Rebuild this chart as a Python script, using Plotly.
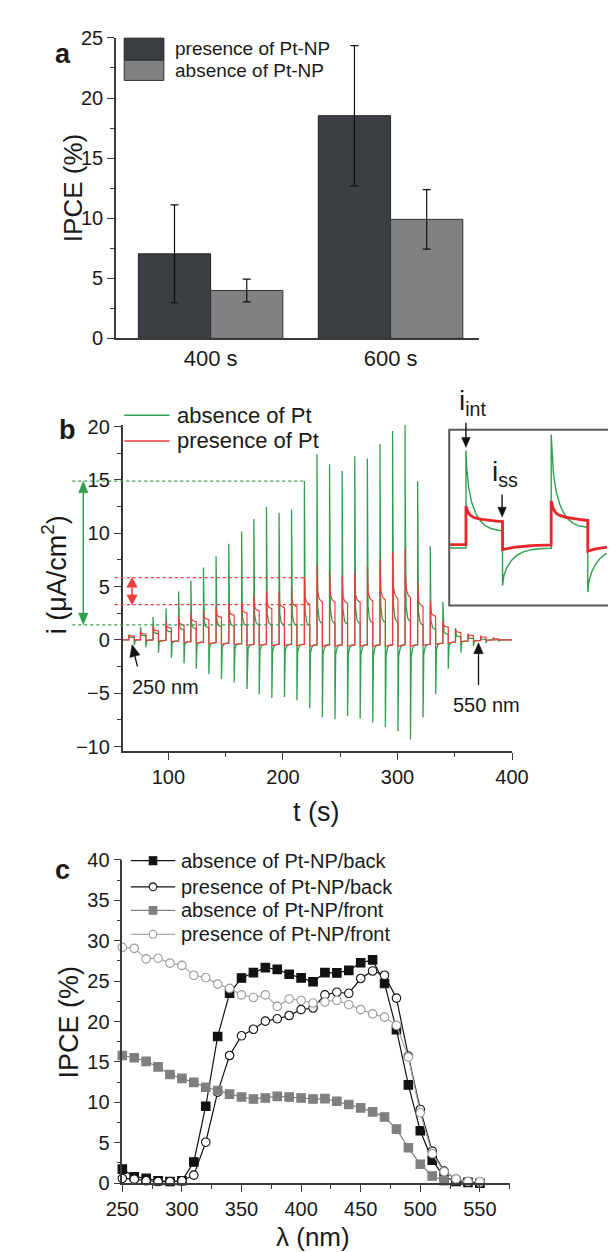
import math
import numpy as np
import plotly.graph_objects as go

W, H = 616, 1252


def px(x):
    return x / W


def py(y):
    return 1 - y / H


FONT = "Liberation Sans, Arial, sans-serif"
AX = "#3a3a3a"
GREEN = "#2f9e4f"
RED = "#ee3b3b"

# ---------------- panel a data ----------------
a_categories = ["400 s", "600 s"]
a_presence = [7.03, 18.53]
a_presence_err = [4.07, 5.84]
a_absence = [3.98, 9.90]
a_absence_err = [0.95, 2.47]

# ---------------- panel b data (per light pulse) ----------------
b_pulse_on = [65.5, 75.6, 86.6, 97.9, 108.9, 119.6, 130.6, 141.6, 152.7, 163.9,
              174.6, 185.6, 196.6, 207.5, 218.7, 229.7, 240.7, 251.7, 262.7, 273.7,
              284.7, 295.7, 306.6, 317.6, 328.6, 339.6, 350.6, 361.6, 372.6, 383.6]
b_green_peak = [0.5, 1.2, 2.15, 2.95, 4.55, 5.56, 6.8, 7.85, 9.03, 10.17,
                11.35, 12.47, 11.92, 12.23, 14.9, 17.42, 16.47, 15.85, 17.22, 17.02,
                18.38, 19.6, 20.15, 14.87, 8.78, 3.55, 1.1, 0.5, 0.3, 0.2]
b_green_ss = [0.25, 0.4, 0.6, 0.75, 0.95, 1.05, 1.15, 1.25, 1.3, 1.35,
              1.4, 1.4, 1.4, 1.4, 1.4, 1.55, 1.55, 1.5, 1.55, 1.6,
              1.65, 1.7, 1.75, 1.4, 1.0, 0.55, 0.3, 0.15, 0.05, 0.0]
b_green_neg = [-0.5, -0.68, -1.2, -1.66, -2.2, -2.7, -3.2, -3.66, -4.0, -4.6,
               -5.1, -5.44, -5.35, -5.65, -6.42, -7.25, -7.43, -7.13, -7.37, -7.74,
               -8.17, -8.57, -9.34, -7.28, -5.1, -2.7, -1.2, -0.6, -0.3, -0.15]
b_red_peak = [0.45, 0.8, 1.26, 1.66, 2.18, 2.55, 2.8, 3.1, 3.4, 3.6,
              4.17, 4.64, 4.5, 4.8, 5.85, 7.0, 6.6, 6.0, 6.3, 6.85,
              7.55, 8.2, 8.5, 5.4, 3.6, 1.75, 1.0, 0.6, 0.4, 0.2]
b_red_ss = [0.35, 0.55, 0.85, 1.1, 1.4, 1.7, 1.9, 2.1, 2.3, 2.5,
            2.7, 2.9, 3.0, 3.1, 3.3, 3.5, 3.5, 3.4, 3.5, 3.6,
            3.7, 3.8, 3.9, 3.1, 2.2, 1.2, 0.7, 0.4, 0.25, 0.1]
b_off_level = [0.0, 0.0, -0.05, -0.1, -0.15, -0.2, -0.25, -0.3, -0.35, -0.4,
               -0.4, -0.4, -0.4, -0.4, -0.45, -0.45, -0.45, -0.45, -0.45, -0.45,
               -0.45, -0.45, -0.45, -0.4, -0.3, -0.2, -0.1, -0.05, 0.0, 0.0]
b_red_drop = [0.0, -0.05, -0.1, -0.15, -0.25, -0.3, -0.35, -0.4, -0.45, -0.5,
              -0.5, -0.55, -0.55, -0.55, -0.6, -0.6, -0.6, -0.6, -0.6, -0.6,
              -0.6, -0.6, -0.6, -0.5, -0.4, -0.3, -0.15, -0.1, -0.05, 0.0]
b_on_duration = 4.7
b_t_range = [60, 400]
b_y_range = [-10.41, 20.18]

# marked levels (arrows) in panel b
b_green_int, b_green_ssmark = 14.9, 1.41
b_red_int, b_red_ssmark = 5.85, 3.3
b_mark_t_on, b_mark_t_off = 218.7, 223.6

# inset (magnified two pulses)
ins_on = [2.15, 13.1]
ins_on_duration = 4.7
ins_green_peak = [6.19, 7.19]
ins_green_ss = [1.13, 1.33]
ins_green_neg = [-2.25, -2.66]
ins_green_base = [0.1, 0.1]
ins_red_peak = [2.72, 3.03]
ins_red_ss = [1.68, 1.74]
ins_red_drop = [0.0, -0.1]
ins_red_base = [0.31, 0.31]
ins_t_range = [0, 20.27]

# ---------------- panel c data ----------------
c_wl = [250, 260, 270, 280, 290, 300, 310, 320, 330, 340, 350, 360, 370, 380, 390, 400,
        410, 420, 430, 440, 450, 460, 470, 480, 490, 500, 510, 520, 530, 540, 550]
c_abs_back = [1.74, 0.8, 0.6, 0.3, 0.2, 0.3, 2.63, 9.52, 18.16, 23.5, 25.4, 26.06, 26.67, 26.46,
              25.86, 25.41, 24.92, 26.06, 26.02, 26.34, 27.27, 27.64, 24.72, 19.0, 12.16, 6.48,
              2.84, 0.8, 0.2, 0.1, 0.0]
c_pres_back = [0.6, 0.5, 0.3, 0.2, 0.2, 0.3, 1.0, 5.07, 11.27, 15.8, 18.24, 19.05, 20.06, 20.34,
               20.75, 21.48, 21.68, 23.3, 23.63, 23.5, 25.33, 26.26, 25.73, 22.9, 15.72, 9.12,
               3.97, 1.5, 0.49, 0.2, 0.0]
c_wl_abs_front = [250, 260, 270, 280, 290, 300, 310, 320, 330, 340, 350, 360, 370, 380, 390, 400,
                  410, 420, 430, 440, 450, 460, 470, 480, 490, 500, 510, 520]
c_abs_front = [15.8, 15.52, 15.08, 14.39, 13.45, 12.97, 12.48, 11.87, 11.47, 11.02, 10.66, 10.42,
               10.54, 10.74, 10.66, 10.54, 10.42, 10.46, 10.13, 9.73, 9.32, 8.83, 8.19, 6.69, 4.38,
               2.35, 0.89, 0.32]
c_pres_front = [29.18, 29.06, 27.76, 27.84, 27.23, 26.95, 25.73, 25.45, 24.64, 24.11, 23.3, 22.98,
                23.3, 21.88, 22.8, 22.61, 22.29, 22.41, 22.61, 22.09, 21.48, 20.95, 20.55, 19.53,
                15.6, 8.71, 3.65, 1.42, 0.53, 0.2, 0.2]


def pulse_series(t_on, peak, ss, neg, base, start_level, t_end, d_on,
                 on_fast, on_tf, on_ts, off_fast, off_tf, off_ts):
    ts = []
    ys = []
    prev = start_level
    for k, t0 in enumerate(t_on):
        ts.append(t0)
        ys.append(prev)
        tau = d_on * np.linspace(0, 1, 140) ** 2
        v = ss[k] + (peak[k] - ss[k]) * (on_fast * np.exp(-tau / on_tf)
                                          + (1 - on_fast) * np.exp(-tau / on_ts))
        ts.extend(t0 + tau)
        ys.extend(v)
        t1 = t0 + d_on
        t_next = t_on[k + 1] if k + 1 < len(t_on) else t_end
        tau2 = (t_next - t1) * np.linspace(0, 1, 140) ** 2
        v2 = base[k] + (neg[k] - base[k]) * (off_fast * np.exp(-tau2 / off_tf)
                                              + (1 - off_fast) * np.exp(-tau2 / off_ts))
        ts.extend(t1 + tau2)
        ys.extend(v2)
        prev = v2[-1]
    return ts, ys


fig = go.Figure()

# ---------------- panel a ----------------
fig.add_trace(go.Bar(x=a_categories, y=a_presence, name="presence of Pt-NP",
                     marker=dict(color="#3b3e42", line=dict(color="#222", width=1)),
                     error_y=dict(type="data", array=a_presence_err, color="#111",
                                  thickness=1.2, width=4),
                     xaxis="x", yaxis="y"))
fig.add_trace(go.Bar(x=a_categories, y=a_absence, name="absence of Pt-NP",
                     marker=dict(color="#808183", line=dict(color="#333", width=1)),
                     error_y=dict(type="data", array=a_absence_err, color="#111",
                                  thickness=1.2, width=4),
                     xaxis="x", yaxis="y"))

# ---------------- panel b ----------------
gt, gy = pulse_series(b_pulse_on, b_green_peak, b_green_ss, b_green_neg, b_off_level,
                      b_off_level[0], b_t_range[1], b_on_duration,
                      0.8, 0.08, 0.9, 0.75, 0.08, 1.0)
rt, ry = pulse_series(b_pulse_on, b_red_peak, b_red_ss, b_red_drop, b_off_level,
                      b_off_level[0], b_t_range[1], b_on_duration,
                      0.6, 0.15, 1.5, 0.0, 1.0, 3.0)
gt = [b_t_range[0]] + gt
gy = [b_off_level[0]] + gy
rt = [b_t_range[0]] + rt
ry = [b_off_level[0]] + ry
fig.add_trace(go.Scatter(x=gt, y=gy, mode="lines", line=dict(color=GREEN, width=1.3),
                         name="absence of Pt", xaxis="x2", yaxis="y2"))
fig.add_trace(go.Scatter(x=rt, y=ry, mode="lines", line=dict(color=RED, width=1.2),
                         name="presence of Pt", xaxis="x2", yaxis="y2"))

# inset
it, iy = pulse_series(ins_on, ins_green_peak, ins_green_ss, ins_green_neg, ins_green_base,
                      ins_green_base[0], ins_t_range[1], ins_on_duration,
                      0.3, 0.15, 1.1, 0.2, 0.1, 1.3)
rit, riy = pulse_series(ins_on, ins_red_peak, ins_red_ss, ins_red_drop, ins_red_base,
                        ins_red_base[0], ins_t_range[1], ins_on_duration,
                        0.55, 0.3, 2.5, 0.0, 1.0, 2.5)
fig.add_trace(go.Scatter(x=[ins_t_range[0]] + it, y=[ins_green_base[0]] + iy, mode="lines",
                         line=dict(color=GREEN, width=1.4), xaxis="x4", yaxis="y4"))
fig.add_trace(go.Scatter(x=[ins_t_range[0]] + rit, y=[ins_red_base[0]] + riy, mode="lines",
                         line=dict(color="#e8262a", width=2.8), xaxis="x4", yaxis="y4"))

# ---------------- panel c ----------------
c_styles = [
    (c_wl, c_abs_back, "absence of Pt-NP/back", "#111111", "square", "#111111", "#111111"),
    (c_wl, c_pres_back, "presence of Pt-NP/back", "#111111", "circle", "white", "#111111"),
    (c_wl_abs_front, c_abs_front, "absence of Pt-NP/front", "#808080", "square", "#7f7f7f", "#7f7f7f"),
    (c_wl, c_pres_front, "presence of Pt-NP/front", "#a8a8a8", "circle", "white", "#9a9a9a"),
]
for xs, ys, nm, lc, sym, fc, mlc in c_styles:
    fig.add_trace(go.Scatter(x=xs, y=ys, mode="lines+markers", name=nm,
                             line=dict(color=lc, width=1.2),
                             marker=dict(symbol=sym, size=8.5, color=fc,
                                         line=dict(color=mlc, width=1.1)),
                             cliponaxis=False, xaxis="x3", yaxis="y3"))

axis_common = dict(showline=True, linecolor=AX, linewidth=1.5, mirror=False,
                   showgrid=False, zeroline=False, ticks="outside", tickcolor=AX,
                   tickwidth=1.3, ticklen=7,
                   tickfont=dict(family=FONT, size=20, color="#1a1a1a"))

layout = dict(
    width=W, height=H, margin=dict(l=0, r=0, t=0, b=0),
    paper_bgcolor="white", plot_bgcolor="rgba(0,0,0,0)", showlegend=False,
    barmode="group", bargap=0.197, bargroupgap=0,
    xaxis=dict(domain=[px(96.3), px(481)], anchor="y", type="category",
               range=[-0.526, 1.494], showline=True, linecolor=AX, linewidth=1.5,
               ticks="", showgrid=False,
               tickfont=dict(family=FONT, size=22, color="#1a1a1a")),
    yaxis=dict(domain=[py(325), py(19.3)], anchor="x", range=[0, 25], tick0=0, dtick=5,
               minor=dict(dtick=2.5, ticks="outside", ticklen=4, tickcolor=AX),
               **axis_common),
    xaxis2=dict(domain=[px(103.3), px(515.5)], anchor="y2", range=b_t_range, tick0=0,
                dtick=100, minor=dict(dtick=50, ticks="outside", ticklen=4, tickcolor=AX),
                **axis_common),
    yaxis2=dict(domain=[py(745), py(413)], anchor="x2", range=b_y_range, tick0=0,
                dtick=5, minor=dict(dtick=2.5, ticks="outside", ticklen=4, tickcolor=AX),
                **axis_common),
    xaxis3=dict(domain=[px(103), px(513)], anchor="y3", range=[250, 575], tick0=0,
                dtick=50, minor=dict(dtick=25, ticks="outside", ticklen=4, tickcolor=AX),
                **axis_common),
    yaxis3=dict(domain=[py(1185), py(856)], anchor="x3", range=[0, 40], tick0=0,
                dtick=5, minor=dict(dtick=2.5, ticks="outside", ticklen=4, tickcolor=AX),
                **axis_common),
    xaxis4=dict(domain=[px(449), 1.0], anchor="y4", range=ins_t_range, visible=False),
    yaxis4=dict(domain=[py(597), py(418)], anchor="x4", range=[-3.5, 7.5], visible=False),
)
fig.update_layout(**layout)

shapes = []
annotations = []


def text(x, y, s, size, xanchor="center", angle=0, bold=False, family=FONT, color="#1a1a1a"):
    if bold:
        s = "<b>" + s + "</b>"
    annotations.append(dict(x=px(x), y=py(y), xref="paper", yref="paper", text=s,
                            showarrow=False, xanchor=xanchor, yanchor="middle",
                            textangle=angle,
                            font=dict(family=family, size=size, color=color)))


def _head(xh, yh, ux, uy, hl, hw, color):
    bx, by = xh - ux * hl, yh - uy * hl
    nx, ny = -uy, ux
    p1 = (bx + nx * hw / 2, by + ny * hw / 2)
    p2 = (bx - nx * hw / 2, by - ny * hw / 2)
    path = "M {:.5f},{:.5f} L {:.5f},{:.5f} L {:.5f},{:.5f} Z".format(
        px(xh), py(yh), px(p1[0]), py(p1[1]), px(p2[0]), py(p2[1]))
    shapes.append(dict(type="path", xref="paper", yref="paper", path=path,
                       fillcolor=color, line=dict(color=color, width=0.5)))
    return bx, by


def arrow(xh, yh, xt, yt, color, hl=10, hw=9, both=False, width=1.4):
    dx, dy = xh - xt, yh - yt
    L = math.hypot(dx, dy)
    ux, uy = dx / L, dy / L
    bx, by = _head(xh, yh, ux, uy, hl, hw, color)
    sx, sy = xt, yt
    if both:
        sx, sy = _head(xt, yt, -ux, -uy, hl, hw, color)
    shapes.append(dict(type="line", xref="paper", yref="paper", x0=px(sx), y0=py(sy),
                       x1=px(bx), y1=py(by), line=dict(color=color, width=width)))


LABEL_FONT = "Liberation Sans, Arial, sans-serif"

# panel labels
text(40, 36, "a", 27, bold=True, family=LABEL_FONT)
text(45.5, 418, "b", 27, bold=True, family=LABEL_FONT)
text(40, 866, "c", 27, bold=True, family=LABEL_FONT)

# panel a titles + legend
text(51, 172, "IPCE (%)", 26, angle=-90)
shapes.append(dict(type="rect", xref="paper", yref="paper", x0=px(105), x1=px(147),
                   y0=py(42), y1=py(19.5), fillcolor="#3b3e42", line=dict(color="#222", width=1)))
shapes.append(dict(type="rect", xref="paper", yref="paper", x0=px(105), x1=px(147),
                   y0=py(62.5), y1=py(42), fillcolor="#808183", line=dict(color="#333", width=1)))
text(157, 30, "presence of Pt-NP", 19, xanchor="left")
text(157, 52, "absence of Pt-NP", 19, xanchor="left")

# panel b titles + legend
text(31, 566, "i (μA/cm<sup>2</sup>)", 27, angle=-90)
text(308, 807, "t (s)", 27)
shapes.append(dict(type="line", xref="paper", yref="paper", x0=px(105), x1=px(153),
                   y0=py(403.3), y1=py(403.3), line=dict(color=GREEN, width=1.4)))
shapes.append(dict(type="line", xref="paper", yref="paper", x0=px(105), x1=px(153),
                   y0=py(429.5), y1=py(429.5), line=dict(color=RED, width=1.4)))
text(159, 403.3, "absence of Pt", 22, xanchor="left")
text(159, 429.5, "presence of Pt", 22, xanchor="left")


def b_px(t):
    x0, x1 = 103.3, 515.5
    return x0 + (t - b_t_range[0]) / (b_t_range[1] - b_t_range[0]) * (x1 - x0)


def b_py(v):
    return 745 - (v - b_y_range[0]) / (b_y_range[1] - b_y_range[0]) * (745 - 413)


# dotted guide lines
for yv, xs, xe, col in [(b_green_int, 50, b_px(b_mark_t_on), GREEN),
                        (b_green_ssmark, 50, b_px(b_mark_t_off), GREEN),
                        (b_red_int, 95, b_px(b_mark_t_on), RED),
                        (b_red_ssmark, 95, b_px(b_mark_t_off), RED)]:
    shapes.append(dict(type="line", xref="paper", yref="y2", x0=px(xs), x1=px(xe),
                       y0=yv, y1=yv, line=dict(color=col, width=1.2, dash="dot")))

arrow(61.7, b_py(b_green_int), 61.7, b_py(b_green_ssmark), GREEN, hl=12, hw=10,
      both=True, width=1.5)
arrow(113.3, b_py(b_red_int), 113.3, b_py(b_red_ssmark), RED, hl=10, hw=11,
      both=True, width=1.5)

arrow(113.3, 637, 119, 659, "#111", hl=12, hw=11, width=1.3)
text(149, 680, "250 nm", 20)
arrow(480, 635, 480, 678, "#111", hl=11, hw=10, width=1.3)
text(488, 698, "550 nm", 20)

# inset frame and labels
shapes.append(dict(type="rect", xref="paper", yref="paper", x0=px(449), x1=px(630),
                   y0=py(597), y1=py(418), line=dict(color="#5a5a5a", width=2),
                   fillcolor="rgba(0,0,0,0)"))
text(474, 390, "i<sub>int</sub>", 28)
arrow(466.7, 436, 466.7, 411, "#111", hl=10, hw=9, width=1.4)
text(508, 463, "i<sub>ss</sub>", 28)
arrow(505, 507, 505, 484, "#111", hl=10, hw=9, width=1.4)

# panel c titles + legend
text(47, 1021, "IPCE (%)", 27, angle=-90)
text(304.5, 1240, "λ (nm)", 26)
leg_rows = [856.7, 883.3, 907.3, 931.7]
for (xs, ys, nm, lc, sym, fc, mlc), yy in zip(c_styles, leg_rows):
    shapes.append(dict(type="line", xref="paper", yref="paper", x0=px(112), x1=px(159),
                       y0=py(yy), y1=py(yy), line=dict(color=lc, width=1.3)))
    shp = "rect" if sym == "square" else "circle"
    shapes.append(dict(type=shp, xref="paper", yref="paper", x0=px(135.5 - 4), x1=px(135.5 + 4),
                       y0=py(yy + 4), y1=py(yy - 4), fillcolor=fc,
                       line=dict(color=mlc, width=1.1)))
    text(163, yy, nm, 20, xanchor="left")

fig.update_layout(shapes=shapes, annotations=annotations)
fig.write_html("out.html")
